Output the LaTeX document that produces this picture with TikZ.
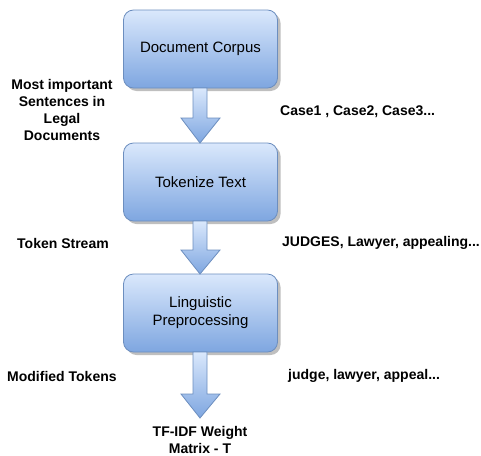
\documentclass[tikz,border=0pt]{standalone}
\usepackage{fontspec}
\setmainfont{Liberation Sans}
\definecolor{topc}{HTML}{DAE8FC}
\definecolor{botc}{HTML}{7EA6E0}
\definecolor{strk}{HTML}{6C8EBF}
\begin{document}
\begin{tikzpicture}[x=1pt,y=-1pt,
  procbox/.style={rounded corners=10pt, draw=strk, line width=0.8pt, top color=topc, bottom color=botc,
    minimum width=154pt, minimum height=78pt, align=center, font=\fontsize{15}{18}\selectfont, inner sep=0pt},
  shadowbox/.style={rounded corners=10pt, fill=black, opacity=0.25, minimum width=154pt, minimum height=78pt, inner sep=0pt},
  lbl/.style={font=\bfseries\fontsize{14}{16.7}\selectfont, align=center, inner sep=0pt},
  blockarrow/.style={draw=strk, line width=0.8pt, top color=topc, bottom color=botc, line join=miter}
]
\useasboundingbox (0,0) rectangle (481,455);

% shadows
\node[shadowbox] at (203.5,52) {};
\node[shadowbox] at (203.5,185) {};
\node[shadowbox] at (203.5,316) {};

\node[procbox] (b1) at (200.5,49) {Document Corpus};
\node[procbox] (b2) at (200.5,182) {Tokenize Text};
\node[procbox] (b3) at (200.5,313) {Linguistic\\Preprocessing};

\coordinate (t3) at (200,418);

% block arrows
\newcommand{\blockarr}[3]{% start y, head y, tip y
  \path[blockarrow] (193,#1) -- (207,#1) -- (207,#2) -- (220,#2) -- (200,#3) -- (181,#2) -- (193,#2) -- cycle;}
\blockarr{88}{118}{143}
\blockarr{221}{250}{274}
\blockarr{352}{394}{418}

\node[lbl] (tf) at (200,440) {TF-IDF Weight\\Matrix - T};

\node[lbl] (l1) at (62,110) {Most important\\Sentences in\\Legal\\Documents};
\node[lbl, anchor=west] (r1) at (280,112) {Case1 , Case2, Case3...};
\node[lbl, anchor=west] (l2) at (17,243) {Token Stream};
\node[lbl, anchor=west] (r2) at (282,243) {JUDGES, Lawyer, appealing...};
\node[lbl, anchor=west] (l3) at (7,376) {Modified Tokens};
\node[lbl, anchor=west] (r3) at (288,376) {judge, lawyer, appeal...};
\end{tikzpicture}
\end{document}
